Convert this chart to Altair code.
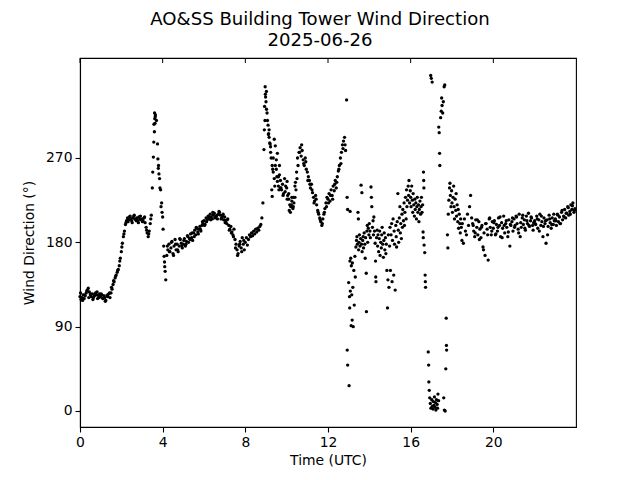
import altair as alt
import pandas as pd

STEP = 0.05  # hours between samples of the regular traces

# 0.00 .. 3.95 h
trace_00_04 = [
    122, 119, 121, 124, 120, 123, 126, 129, 131, 127, 124, 122, 125, 121, 123, 126, 124, 120, 123, 125,
    122, 124, 120, 123, 121, 118, 123, 122, 125, 121, 126, 130, 135, 138, 142, 145, 148, 151, 155, 163,
    170, 179, 186, 192, 199, 203, 206, 204, 207, 205, 203, 206, 208, 205, 204, 206, 203, 207, 205, 204,
    205, 203, 206, 201, 196, 190, 186, 192, 200, 209, 238, 271, 298, 316, 310, 285, 262, 248, 236, 222,
]
# 4.00 .. 7.95 h
trace_04_08 = [
    207, 176, 154, 140, 166, 172, 178, 170, 174, 181, 168, 176, 183, 172, 178, 170, 176, 183, 179, 174,
    178, 184, 176, 181, 187, 180, 184, 189, 185, 182, 190, 193, 188, 195, 191, 194, 197, 192, 198, 200,
    203, 199, 206, 204, 208, 205, 210, 207, 205, 209, 211, 207, 208, 205, 210, 212, 209, 206, 208, 204,
    207, 203, 200, 205, 198, 194, 197, 191, 188, 194, 183, 178, 172, 168, 176, 181, 174, 185, 178, 172,
]
# 8.00 .. 12.95 h
trace_08_13 = [
    180, 185, 177, 183, 188, 186, 190, 187, 192, 189, 194, 191, 195, 193, 197, 199, 206, 222, 279, 310,
    330, 318, 305, 292, 285, 270, 262, 255, 248, 262, 258, 245, 240, 252, 246, 236, 242, 232, 248, 240,
    238, 230, 226, 220, 218, 224, 216, 222, 228, 236, 248, 262, 276, 281, 272, 278, 268, 262, 270, 258,
    255, 250, 246, 238, 242, 233, 228, 224, 230, 220, 214, 210, 206, 202, 198, 205, 210, 216, 222, 228,
    226, 232, 224, 236, 230, 240, 235, 246, 238, 250, 256, 262, 270, 276, 284, 288, 292, 278, 332, 215,
]
# 18.50 .. 23.95 h
trace_185_24 = [
    200, 179, 205, 192, 188, 210, 198, 218, 230, 206,
    200, 192, 186, 204, 196, 188, 202, 194, 185, 198, 175, 190, 166, 200, 194, 161, 205, 196, 188, 202,
    195, 203, 188, 199, 192, 206, 198, 186, 201, 195, 208, 190, 200, 196, 186, 204, 176, 198, 202, 192,
    205, 198, 208, 200, 194, 210, 186, 196, 206, 199, 204, 193, 208, 200, 211, 197, 203, 206, 198, 201,
    203, 199, 208, 195, 204, 210, 198, 202, 186, 206, 200, 179, 204, 197, 209, 201, 195, 206, 199, 203,
    205, 198, 210, 202, 207, 200, 212, 204, 208, 215, 206, 211, 218, 209, 213, 220, 215, 222, 212, 216,
]
# in-between samples, every 0.1 h
fill_00_04 = [  # 0.025 .. 3.425 h
    126, 118, 124, 128, 121, 125, 119, 124, 127, 121,
    125, 120, 117, 124, 126, 132, 139, 144, 150, 160,
    175, 189, 201, 202, 208, 201, 209, 203, 201, 208,
    202, 207, 193, 189, 205,
]
fill_04_08 = [  # 4.225 .. 7.925 h
    176, 170, 180, 166, 178, 172, 184, 176,
    182, 178, 186, 183, 190, 186, 196, 189, 194, 202,
    198, 202, 207, 204, 212, 206, 209, 213, 205, 210,
    201, 204, 193, 190, 186, 174, 166, 178, 170, 182,
]
fill_09_13 = [  # 9.025 .. 12.925 h
    322, 296, 276, 258, 240, 250, 236, 238, 230, 234,
    226, 214, 220, 228, 244, 270, 276, 284, 264, 266,
    246, 242, 236, 222, 226, 212, 204, 200, 212, 218,
    222, 230, 226, 242, 244, 258, 264, 280, 284, 228,
]
fill_19_24 = [  # 19.025 .. 23.925 h
    198, 190, 204, 183, 196, 172, 200, 188, 206, 192,
    201, 189, 196, 207, 185, 198, 203, 191, 199, 206,
    196, 207, 190, 201, 209, 195, 203, 198, 207, 193,
    200, 205, 192, 208, 197, 203, 188, 205, 199, 210,
    203, 209, 200, 214, 207, 211, 217, 210, 219, 214,
]

# irregular samples (hour, degrees)
peak_4h = [
    (3.52, 255), (3.57, 287), (3.58, 306), (3.61, 318), (3.62, 312), (3.63, 307), (3.64, 314),
    (3.77, 269), (3.79, 259), (3.82, 253), (3.87, 238), (3.92, 218), (3.97, 212), (4.02, 194),
    (4.07, 165), (4.09, 159), (4.12, 149),
]
peak_9h = [
    (8.92, 300), (8.93, 325), (8.96, 346), (8.97, 338), (8.98, 335), (9.02, 341), (9.07, 310),
    (9.12, 295), (9.15, 300), (9.18, 286), (9.22, 282), (9.28, 236), (9.30, 229), (9.35, 270),
    (9.40, 290), (9.45, 283), (9.50, 268), (9.55, 275), (9.60, 250), (9.65, 262), (9.70, 238),
    (10.02, 245), (10.10, 232), (10.18, 212), (10.25, 228), (10.32, 218), (10.40, 240), (10.48, 255),
]
noisy_13_185 = [
    (12.93, 65), (12.95, 49), (13.00, 137), (13.02, 27), (13.04, 122), (13.05, 110), (13.06, 160),
    (13.07, 213), (13.08, 128), (13.10, 163), (13.12, 91), (13.13, 155), (13.15, 124), (13.17, 97),
    (13.18, 158), (13.20, 132), (13.22, 90), (13.25, 150), (13.27, 113), (13.30, 165), (13.32, 143),
    (13.35, 175), (13.38, 182), (13.40, 186), (13.42, 178), (13.45, 212), (13.47, 205), (13.48, 172),
    (13.50, 180), (13.52, 188), (13.55, 176), (13.58, 184), (13.60, 241), (13.62, 178), (13.64, 233),
    (13.65, 170), (13.68, 182), (13.70, 186), (13.72, 174), (13.75, 190), (13.78, 178), (13.80, 163),
    (13.82, 185), (13.85, 147), (13.86, 106), (13.88, 192), (13.90, 198), (13.92, 180), (13.95, 195),
    (13.98, 188), (14.00, 200), (14.03, 192), (14.05, 185), (14.08, 239), (14.10, 228), (14.12, 218),
    (14.15, 196), (14.18, 203), (14.20, 188), (14.22, 207), (14.25, 192), (14.28, 179), (14.30, 160),
    (14.31, 143), (14.32, 138), (14.35, 185), (14.38, 193), (14.40, 176), (14.42, 188), (14.45, 170),
    (14.48, 184), (14.50, 192), (14.52, 166), (14.55, 180), (14.58, 174), (14.60, 188), (14.62, 196),
    (14.65, 178), (14.68, 164), (14.70, 182), (14.72, 190), (14.75, 172), (14.78, 185), (14.80, 168),
    (14.82, 178), (14.85, 150), (14.88, 110), (14.90, 140), (14.92, 188), (14.95, 132), (14.98, 176),
    (15.00, 196), (15.02, 150), (15.05, 188), (15.08, 200), (15.10, 138), (15.12, 182), (15.15, 205),
    (15.18, 145), (15.20, 192), (15.22, 178), (15.25, 129), (15.28, 198), (15.30, 186), (15.32, 175),
    (15.35, 202), (15.38, 232), (15.40, 193), (15.42, 180), (15.45, 206), (15.48, 218), (15.50, 190),
    (15.52, 200), (15.55, 184), (15.58, 210), (15.60, 196), (15.62, 215), (15.65, 203), (15.68, 222),
    (15.70, 198), (15.72, 212), (15.75, 228), (15.78, 205), (15.80, 236), (15.82, 218), (15.85, 225),
    (15.88, 240), (15.90, 230), (15.92, 246), (15.95, 222), (15.98, 235), (16.00, 228), (16.02, 218),
    (16.05, 240), (16.08, 225), (16.10, 212), (16.12, 232), (16.15, 220), (16.18, 208), (16.20, 226),
    (16.22, 215), (16.25, 222), (16.28, 205), (16.30, 218), (16.32, 228), (16.35, 212), (16.38, 220),
    (16.40, 202), (16.42, 215), (16.45, 224), (16.48, 210), (16.50, 218), (16.52, 228), (16.55, 212),
    (16.58, 220), (16.60, 191), (16.61, 185), (16.62, 255), (16.63, 246), (16.64, 238), (16.65, 177),
    (16.68, 169), (16.70, 145), (16.71, 138), (16.72, 132), (16.85, 63), (16.87, 49), (16.88, 31),
    (16.90, 22), (16.92, 14), (16.95, 8), (16.97, 358), (16.98, 3), (17.00, 355), (17.02, 12),
    (17.04, 351), (17.05, 5), (17.08, 2), (17.10, 10), (17.12, 6), (17.15, 15), (17.18, 4),
    (17.20, 9), (17.22, 1), (17.25, 12), (17.28, 7), (17.30, 3), (17.32, 18), (17.35, 11),
    (17.36, 303), (17.38, 297), (17.40, 275), (17.41, 262), (17.45, 313), (17.48, 320), (17.50, 334),
    (17.52, 326), (17.55, 318), (17.58, 330), (17.60, 14), (17.62, 346), (17.63, 1), (17.65, 348),
    (17.67, 0), (17.70, 45), (17.72, 99), (17.73, 70), (17.74, 65), (17.78, 188), (17.80, 174),
    (17.82, 210), (17.85, 225), (17.88, 238), (17.90, 243), (17.92, 230), (17.95, 218), (17.98, 235),
    (18.00, 222), (18.02, 212), (18.05, 228), (18.08, 240), (18.10, 218), (18.12, 205), (18.15, 226),
    (18.18, 214), (18.20, 232), (18.22, 208), (18.25, 220), (18.28, 202), (18.30, 215), (18.32, 195),
    (18.35, 210), (18.38, 200), (18.40, 190), (18.42, 205), (18.45, 196), (18.48, 182),
]

x_ticks = [0, 4, 8, 12, 16, 20]
y_ticks = [0, 90, 180, 270]

hours, degs = [], []
for start, vals, step in [(0.0, trace_00_04, STEP), (4.0, trace_04_08, STEP),
                          (8.0, trace_08_13, STEP), (18.5, trace_185_24, STEP),
                          (0.025, fill_00_04, 0.1), (4.225, fill_04_08, 0.1),
                          (9.025, fill_09_13, 0.1), (19.025, fill_19_24, 0.1)]:
    for i, v in enumerate(vals):
        hours.append(round(start + i * step, 4))
        degs.append(v)
for pts in (peak_4h, peak_9h, noisy_13_185):
    for h, v in pts:
        hours.append(h)
        degs.append(v)

df = pd.DataFrame({"hour": hours, "deg": degs})

FONT = "DejaVu Sans"

points = alt.Chart(df).mark_circle(size=11, color="black", opacity=1).encode(
    x=alt.X("hour:Q",
            scale=alt.Scale(domain=[0, 24], nice=False, zero=False),
            axis=alt.Axis(values=x_ticks, title="Time (UTC)", format="d")),
    y=alt.Y("deg:Q",
            scale=alt.Scale(domain=[-17.1, 376.7], nice=False, zero=False),
            axis=alt.Axis(values=y_ticks, title="Wind Direction (°)", format="d")),
)

top_ticks = alt.Chart(pd.DataFrame({"hour": x_ticks})).mark_rule(
    color="black", strokeWidth=1
).encode(x="hour:Q", y=alt.value(0), y2=alt.value(5))

chart = alt.layer(points, top_ticks).properties(
    width=496,
    height=369,
    padding={"left": 72, "top": 50, "right": 56, "bottom": 45},
    autosize=alt.AutoSizeParams(type="none"),
    title=alt.TitleParams(
        text=["AO&SS Building Tower Wind Direction", "2025-06-26"],
        font=FONT, fontSize=18.1, fontWeight="normal", color="black",
        anchor="middle", lineHeight=21, offset=7, dx=-8,
    ),
).configure_view(
    stroke="black", strokeWidth=1.1
).configure_axis(
    grid=False, labelFlush=False,
    domainColor="black", domainWidth=1.1,
    tickColor="black", tickWidth=1.1, tickSize=5,
    labelFont=FONT, labelFontSize=13.9, labelColor="black", labelPadding=3,
    titleFont=FONT, titleFontSize=13.9, titleFontWeight="normal", titleColor="black",
).configure_axisX(titlePadding=5).configure_axisY(titlePadding=9)

chart.save("out.html", embed_options={"renderer": "svg", "actions": False})
